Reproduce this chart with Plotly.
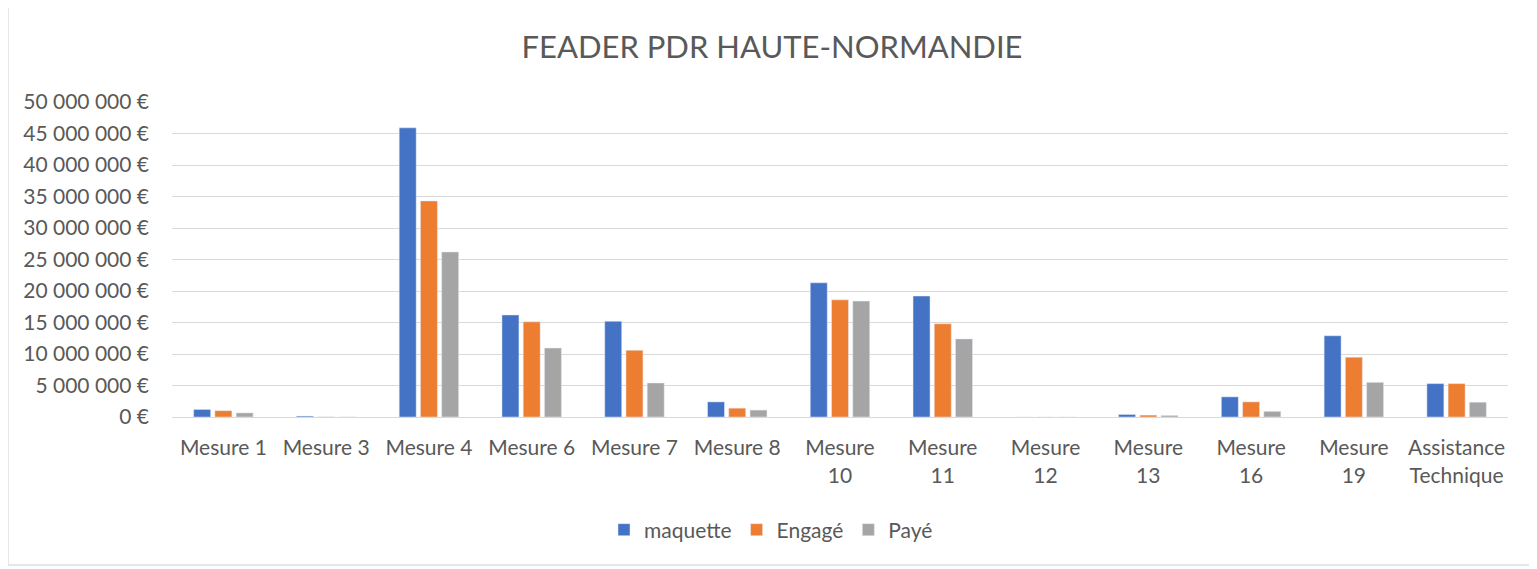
import plotly.graph_objects as go

categories = ["Mesure 1", "Mesure 3", "Mesure 4", "Mesure 6", "Mesure 7", "Mesure 8",
              "Mesure<br>10", "Mesure<br>11", "Mesure<br>12", "Mesure<br>13", "Mesure<br>16",
              "Mesure<br>19", "Assistance<br>Technique"]
maquette = [1200000, 150000, 45900000, 16200000, 15200000, 2400000, 21300000, 19200000,
            0, 400000, 3200000, 12900000, 5300000]
engage = [1000000, 20000, 34300000, 15100000, 10600000, 1400000, 18600000, 14800000,
          0, 300000, 2400000, 9500000, 5300000]
paye = [650000, 10000, 26200000, 10950000, 5400000, 1100000, 18400000, 12400000,
        0, 250000, 900000, 5500000, 2350000]
tick_vals = [0, 5e6, 10e6, 15e6, 20e6, 25e6, 30e6, 35e6, 40e6, 45e6, 50e6]
tick_text = ["0 €", "5 000 000 €", "10 000 000 €", "15 000 000 €", "20 000 000 €",
             "25 000 000 €", "30 000 000 €", "35 000 000 €", "40 000 000 €",
             "45 000 000 €", "50 000 000 €"]

FONT = "Lato"
GREY = "#595959"
OFF = 8  # default page body margin

fig = go.Figure()
fig.add_bar(x=categories, y=maquette, name="maquette", marker_color="#4472C4")
fig.add_bar(x=categories, y=engage, name="Engagé", marker_color="#ED7D31")
fig.add_bar(x=categories, y=paye, name="Payé", marker_color="#A5A5A5")

fig.update_layout(
    width=1537, height=569,
    margin=dict(l=172 - OFF, r=1537 - (1508 - OFF), t=102 - OFF, b=569 - (417 - OFF)),
    paper_bgcolor="white", plot_bgcolor="white",
    font=dict(family=FONT, size=21, color=GREY),
    title=dict(text="FEADER PDR HAUTE-NORMANDIE", x=(772 - OFF) / 1537, xanchor="center",
               y=1 - (47 - OFF) / 569, yanchor="middle",
               font=dict(family=FONT, size=31, color=GREY)),
    barmode="group", bargap=0.38, bargroupgap=0.2,
    showlegend=True,
    legend=dict(orientation="h", x=(771 - 172) / 1336, xanchor="center",
                y=(417 - 530) / 315, yanchor="middle",
                font=dict(family=FONT, size=21, color=GREY)),
    shapes=[dict(type="rect", xref="paper", yref="paper",
                 x0=(8 - 172) / 1336, x1=(1530 - 172) / 1336,
                 y0=(417 - 565) / 315, y1=(417 - 3) / 315,
                 line=dict(color="#d0d0d0", width=1), layer="below")],
)
fig.update_xaxes(showgrid=False, showline=True, linecolor="#d9d9d9", linewidth=1,
                 ticks="", ticklabelstandoff=12,
                 tickfont=dict(family=FONT, size=21, color=GREY))
fig.update_yaxes(range=[0, 50e6], tickvals=tick_vals, ticktext=tick_text,
                 showgrid=True, gridcolor="#d9d9d9", gridwidth=1,
                 zeroline=False, showline=False, ticks="", ticklabelstandoff=22,
                 tickfont=dict(family=FONT, size=21, color=GREY))

fig.write_html("out.html")
